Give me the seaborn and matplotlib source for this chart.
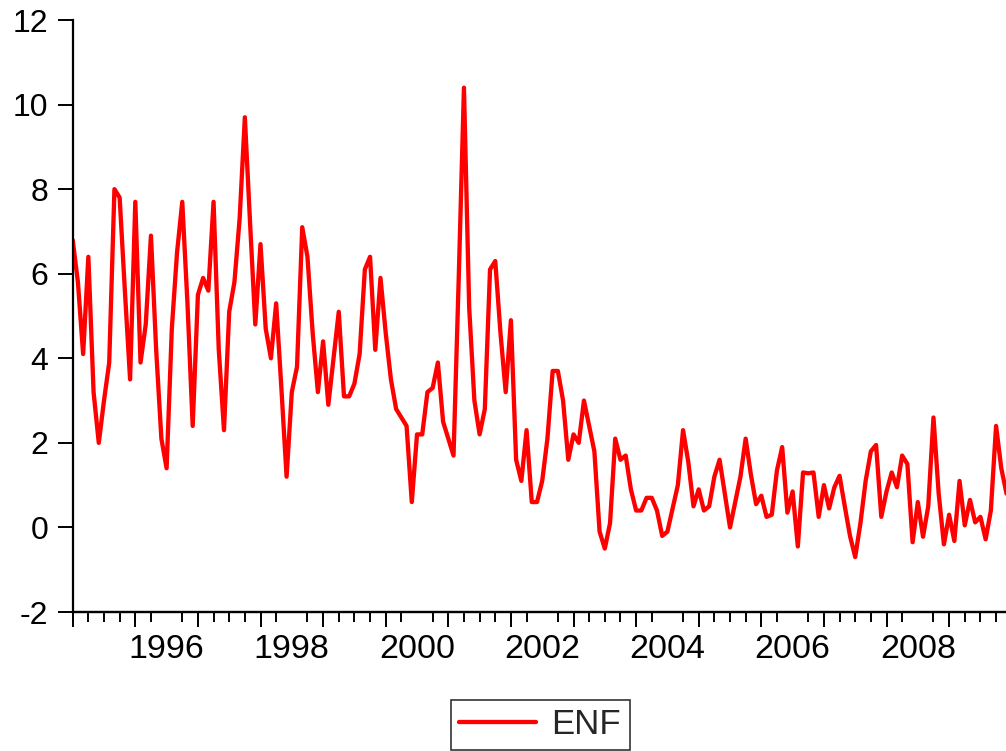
import numpy as np
import pandas as pd
import seaborn as sns
import matplotlib.pyplot as plt

# Monthly series, January 1995 onward
enf = [6.8, 5.8, 4.1, 6.4, 3.2, 2.0, 3.0, 3.9, 8.0, 7.8, 5.6, 3.5,
       7.7, 3.9, 4.8, 6.9, 4.2, 2.1, 1.4, 4.7, 6.5, 7.7, 5.3, 2.4,
       5.5, 5.9, 5.6, 7.7, 4.2, 2.3, 5.1, 5.8, 7.3, 9.7, 7.2, 4.8,
       6.7, 4.7, 4.0, 5.3, 3.3, 1.2, 3.2, 3.8, 7.1, 6.4, 4.6, 3.2,
       4.4, 2.9, 4.0, 5.1, 3.1, 3.1, 3.4, 4.1, 6.1, 6.4, 4.2, 5.9,
       4.6, 3.5, 2.8, 2.6, 2.4, 0.6, 2.2, 2.2, 3.2, 3.3, 3.9, 2.5,
       2.1, 1.7, 5.9, 10.4, 5.2, 3.0, 2.2, 2.8, 6.1, 6.3, 4.6, 3.2,
       4.9, 1.6, 1.1, 2.3, 0.6, 0.6, 1.1, 2.1, 3.7, 3.7, 3.0, 1.6,
       2.2, 2.0, 3.0, 2.4, 1.8, -0.1, -0.5, 0.1, 2.1, 1.6, 1.7, 0.9,
       0.4, 0.4, 0.7, 0.7, 0.4, -0.2, -0.1, 0.45, 1.0, 2.3, 1.55, 0.5,
       0.9, 0.4, 0.5, 1.2, 1.6, 0.8, 0.0, 0.6, 1.2, 2.1, 1.25, 0.55,
       0.75, 0.25, 0.3, 1.35, 1.9, 0.35, 0.85, -0.45, 1.3, 1.28, 1.3, 0.25,
       1.0, 0.45, 0.95, 1.22, 0.5, -0.2, -0.7, 0.1, 1.1, 1.8, 1.95, 0.25,
       0.85, 1.3, 0.95, 1.7, 1.5, -0.35, 0.6, -0.22, 0.5, 2.6, 0.8, -0.4,
       0.3, -0.32, 1.1, 0.05, 0.65, 0.12, 0.25, -0.28, 0.4, 2.4, 1.4, 0.8]
start_year = 1995
year_labels = ['1996', '1998', '2000', '2002', '2004', '2006', '2008']
y_ticks = [-2, 0, 2, 4, 6, 8, 10, 12]
series_name = 'ENF'

df = pd.DataFrame({'t': np.arange(len(enf)), series_name: enf})

sns.set_style('white')
plt.rcParams['font.family'] = ['Liberation Sans', 'DejaVu Sans']
plt.rcParams['axes.unicode_minus'] = False

W, H = 1006, 751
fig = plt.figure(figsize=(W / 100, H / 100), dpi=100)
x0, x1 = 72.7, 1006.5
y_top, y_bot = 20, 612
ax = fig.add_axes([x0 / W, (H - y_bot) / H, (x1 - x0) / W, (y_bot - y_top) / H])

sns.lineplot(data=df, x='t', y=series_name, color='#ff0000', linewidth=3.1,
             ax=ax, label=series_name, legend=False)

ax.set_xlim(0, len(enf) - 1)
ax.set_ylim(min(y_ticks), max(y_ticks))
ax.set_xlabel('')
ax.set_ylabel('')

for s in ['top', 'right']:
    ax.spines[s].set_visible(False)
for s in ['left', 'bottom']:
    ax.spines[s].set_linewidth(1.6)
    ax.spines[s].set_color('black')

ax.set_yticks(y_ticks)
ax.set_yticklabels([str(v) for v in y_ticks])
ax.tick_params(axis='y', direction='out', length=10.5, width=1.4, pad=7,
               labelsize=23, colors='black', left=True)

centers = [(int(y) - start_year) * 12 + 6 for y in year_labels]
ax.set_xticks(centers)
ax.set_xticklabels(year_labels)
ax.set_xticks(np.arange(0, len(enf), 3), minor=True)
ax.tick_params(axis='x', which='major', length=0, pad=16, labelsize=24.5,
               colors='black')
ax.tick_params(axis='x', which='minor', direction='out', length=7.2,
               width=1.4, bottom=True, color='black')

sec = ax.secondary_xaxis('bottom')
sec.set_xticks(np.arange(0, len(enf) + 1, 12))
sec.tick_params(direction='out', length=10.8, width=1.4, labelbottom=False,
                color='black')
sec.spines['bottom'].set_linewidth(1.6)

handles, labels = ax.get_legend_handles_labels()
leg = fig.legend(handles, labels, loc='lower center',
                 bbox_to_anchor=(540 / W, 1 / H), frameon=True,
                 fancybox=False, fontsize=25, handlelength=2.2,
                 handletextpad=0.45, borderpad=0.25, borderaxespad=0)
leg.get_frame().set_edgecolor('black')
leg.get_frame().set_linewidth(1.2)

fig.savefig('out.png', dpi=100)
